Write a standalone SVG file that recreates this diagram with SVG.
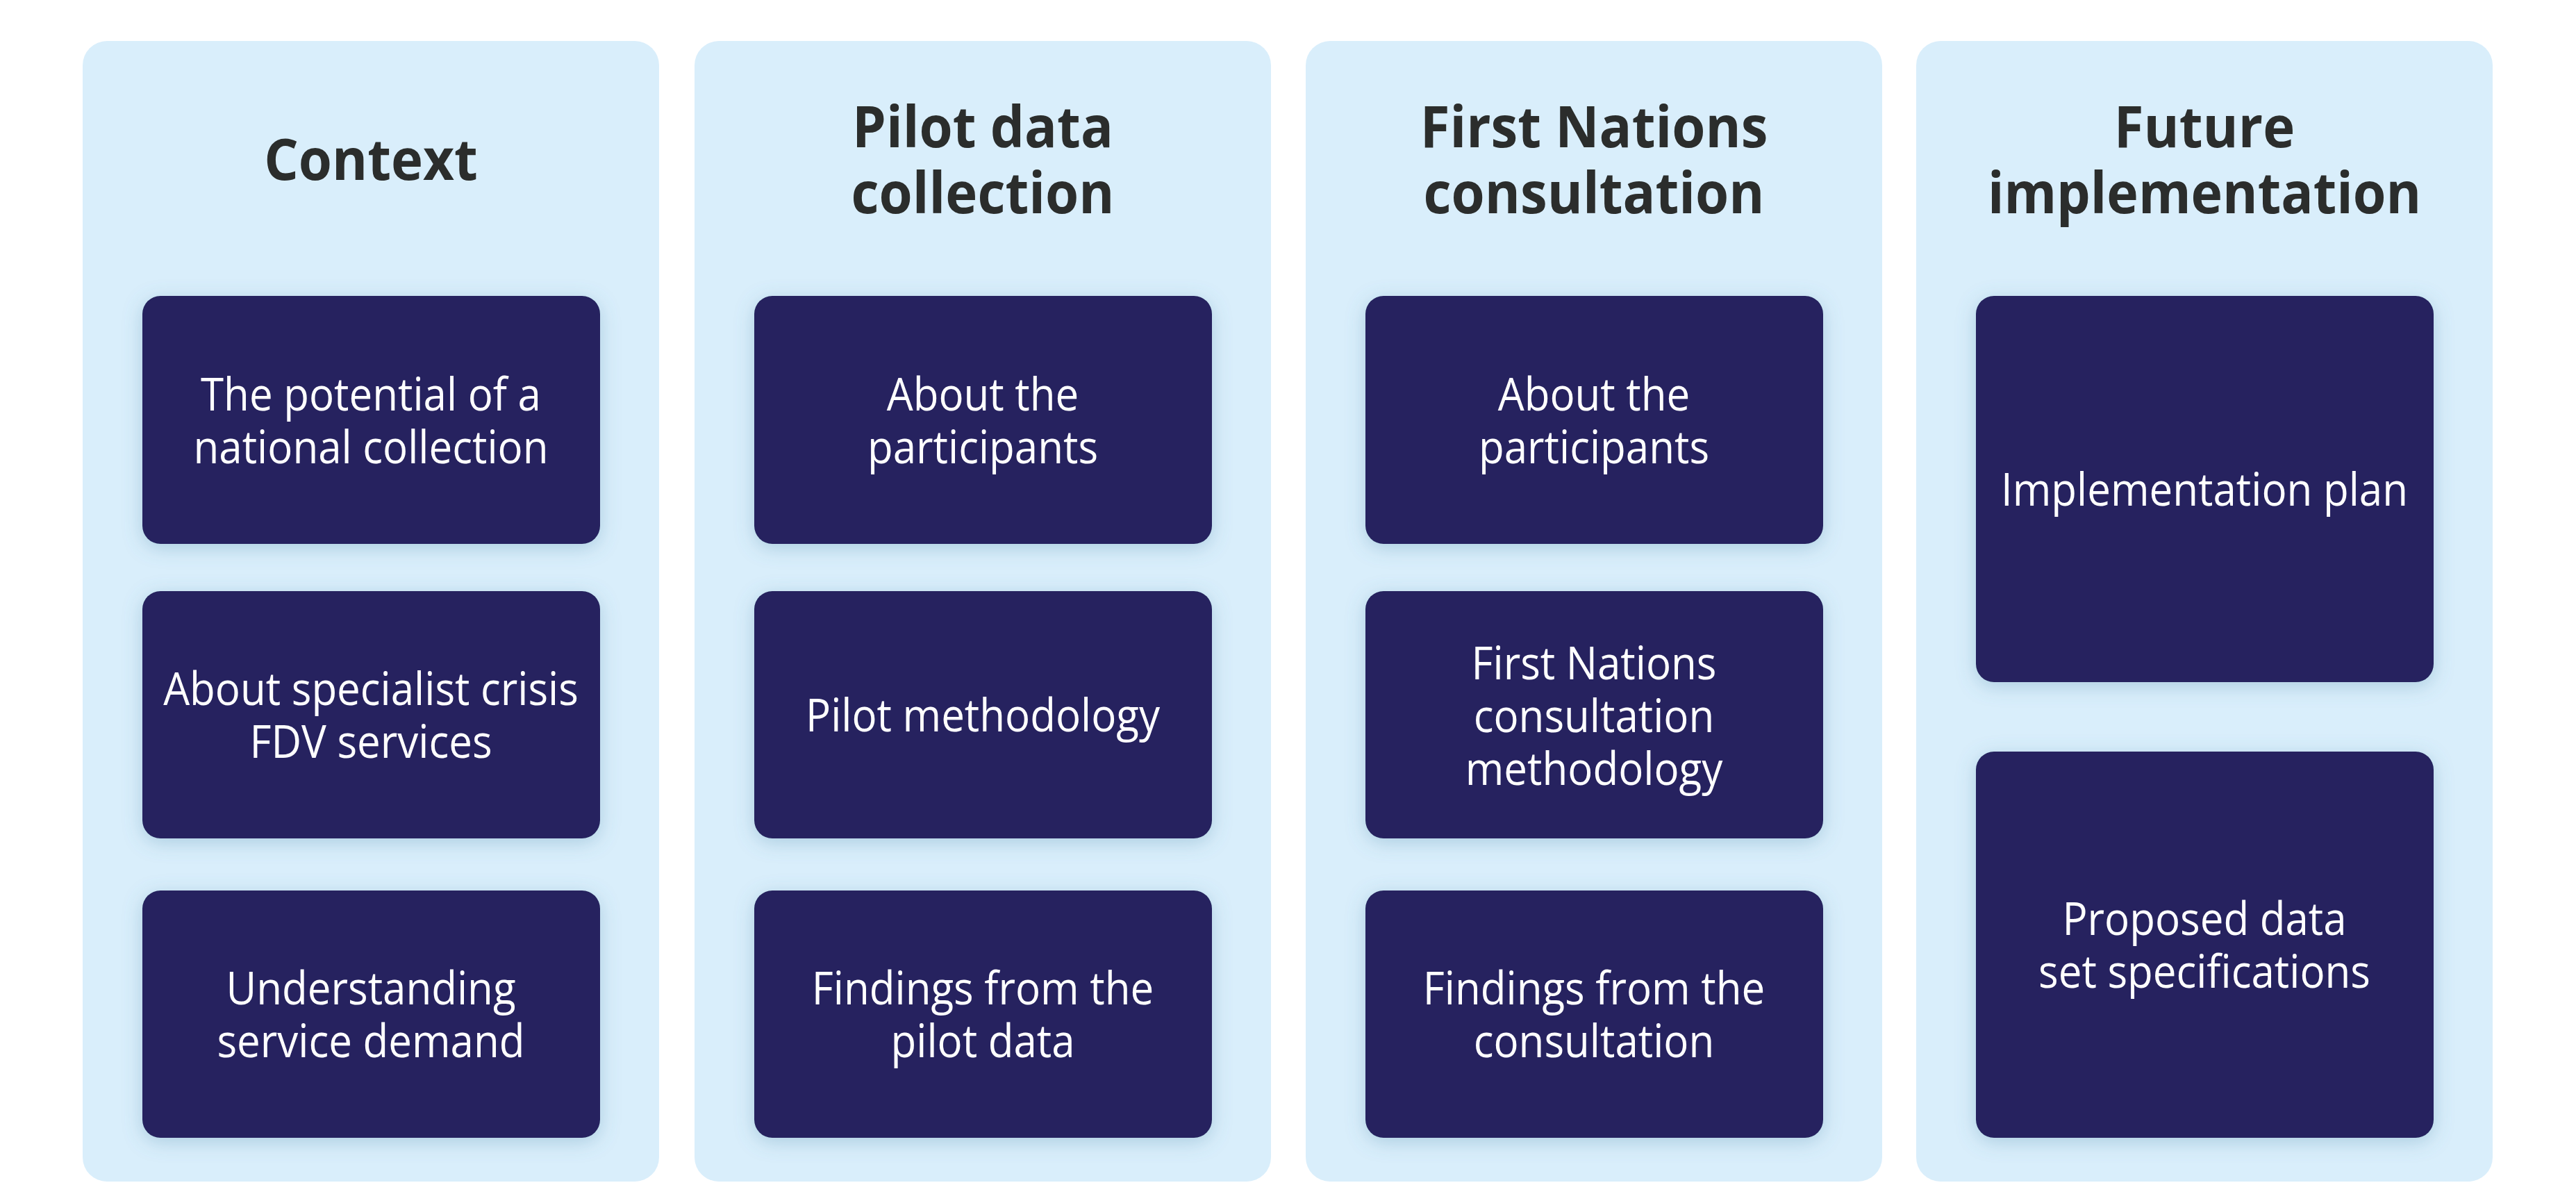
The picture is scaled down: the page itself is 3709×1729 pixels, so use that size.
<svg xmlns="http://www.w3.org/2000/svg" width="3709" height="1729" viewBox="0 0 3709 1729">
<defs>
<filter id="sh" x="-20%" y="-20%" width="140%" height="140%">
<feDropShadow dx="0" dy="6" stdDeviation="14" flood-color="#4f86a8" flood-opacity="0.32"/>
</filter>
<style>
.col{fill:#D9EEFB}
.box{fill:#25245E;filter:url(#sh)}
.title{font-family:"Open Sans","Noto Sans","Liberation Sans",sans-serif;font-weight:700;font-size:82px;fill:#2B2D2C;text-anchor:middle}
.lbl{font-family:"Open Sans","Noto Sans","Liberation Sans",sans-serif;font-weight:400;font-size:66px;fill:#FFFFFF;text-anchor:middle}
</style>
</defs>
<rect width="3709" height="1729" fill="#FFFFFF"/>
<g id="col-context">
<rect class="col" x="119" y="59" width="830" height="1642" rx="35"/>
<text class="title" transform="matrix(0.95 0 0 1 534 259)">Context</text>
</g>
<g id="col-pilot">
<rect class="col" x="1000" y="59" width="830" height="1642" rx="35"/>
<text class="title" transform="matrix(0.95 0 0 1 1415 212)">Pilot data</text>
<text class="title" transform="matrix(0.95 0 0 1 1415 307)">collection</text>
</g>
<g id="col-firstnations">
<rect class="col" x="1880" y="59" width="830" height="1642" rx="35"/>
<text class="title" transform="matrix(0.95 0 0 1 2295 212)">First Nations</text>
<text class="title" transform="matrix(0.95 0 0 1 2295 307)">consultation</text>
</g>
<g id="col-future">
<rect class="col" x="2759" y="59" width="830" height="1642" rx="35"/>
<text class="title" transform="matrix(0.95 0 0 1 3174 212)">Future</text>
<text class="title" transform="matrix(0.94 0 0 1 3174 307)">implementation</text>
</g>

<g id="n-potential">
<rect class="box" x="205" y="426" width="659" height="357" rx="26"/>
<text class="lbl" transform="matrix(0.91 0 0 1 534 591)">The potential of a</text>
<text class="lbl" transform="matrix(0.91 0 0 1 534 667)">national collection</text>
</g>
<g id="n-specialist">
<rect class="box" x="205" y="851" width="659" height="356" rx="26"/>
<text class="lbl" transform="matrix(0.91 0 0 1 534 1015)">About specialist crisis</text>
<text class="lbl" transform="matrix(0.91 0 0 1 534 1091)">FDV services</text>
</g>
<g id="n-demand">
<rect class="box" x="205" y="1282" width="659" height="356" rx="26"/>
<text class="lbl" transform="matrix(0.91 0 0 1 534 1446)">Understanding</text>
<text class="lbl" transform="matrix(0.91 0 0 1 534 1522)">service demand</text>
</g>

<g id="n-pilot-participants">
<rect class="box" x="1086" y="426" width="659" height="357" rx="26"/>
<text class="lbl" transform="matrix(0.91 0 0 1 1415 591)">About the</text>
<text class="lbl" transform="matrix(0.91 0 0 1 1415 667)">participants</text>
</g>
<g id="n-pilot-method">
<rect class="box" x="1086" y="851" width="659" height="356" rx="26"/>
<text class="lbl" transform="matrix(0.91 0 0 1 1415 1053)">Pilot methodology</text>
</g>
<g id="n-pilot-findings">
<rect class="box" x="1086" y="1282" width="659" height="356" rx="26"/>
<text class="lbl" transform="matrix(0.91 0 0 1 1415 1446)">Findings from the</text>
<text class="lbl" transform="matrix(0.91 0 0 1 1415 1522)">pilot data</text>
</g>

<g id="n-fn-participants">
<rect class="box" x="1966" y="426" width="659" height="357" rx="26"/>
<text class="lbl" transform="matrix(0.91 0 0 1 2295 591)">About the</text>
<text class="lbl" transform="matrix(0.91 0 0 1 2295 667)">participants</text>
</g>
<g id="n-fn-method">
<rect class="box" x="1966" y="851" width="659" height="356" rx="26"/>
<text class="lbl" transform="matrix(0.91 0 0 1 2295 978)">First Nations</text>
<text class="lbl" transform="matrix(0.91 0 0 1 2295 1054)">consultation</text>
<text class="lbl" transform="matrix(0.91 0 0 1 2295 1130)">methodology</text>
</g>
<g id="n-fn-findings">
<rect class="box" x="1966" y="1282" width="659" height="356" rx="26"/>
<text class="lbl" transform="matrix(0.91 0 0 1 2295 1446)">Findings from the</text>
<text class="lbl" transform="matrix(0.91 0 0 1 2295 1522)">consultation</text>
</g>

<g id="n-impl-plan">
<rect class="box" x="2845" y="426" width="659" height="556" rx="26"/>
<text class="lbl" transform="matrix(0.91 0 0 1 3174 728)">Implementation plan</text>
</g>
<g id="n-dataset-spec">
<rect class="box" x="2845" y="1082" width="659" height="556" rx="26"/>
<text class="lbl" transform="matrix(0.91 0 0 1 3174 1346)">Proposed data</text>
<text class="lbl" transform="matrix(0.91 0 0 1 3174 1422)">set specifications</text>
</g>
<g id="connectors"/>
</svg>
